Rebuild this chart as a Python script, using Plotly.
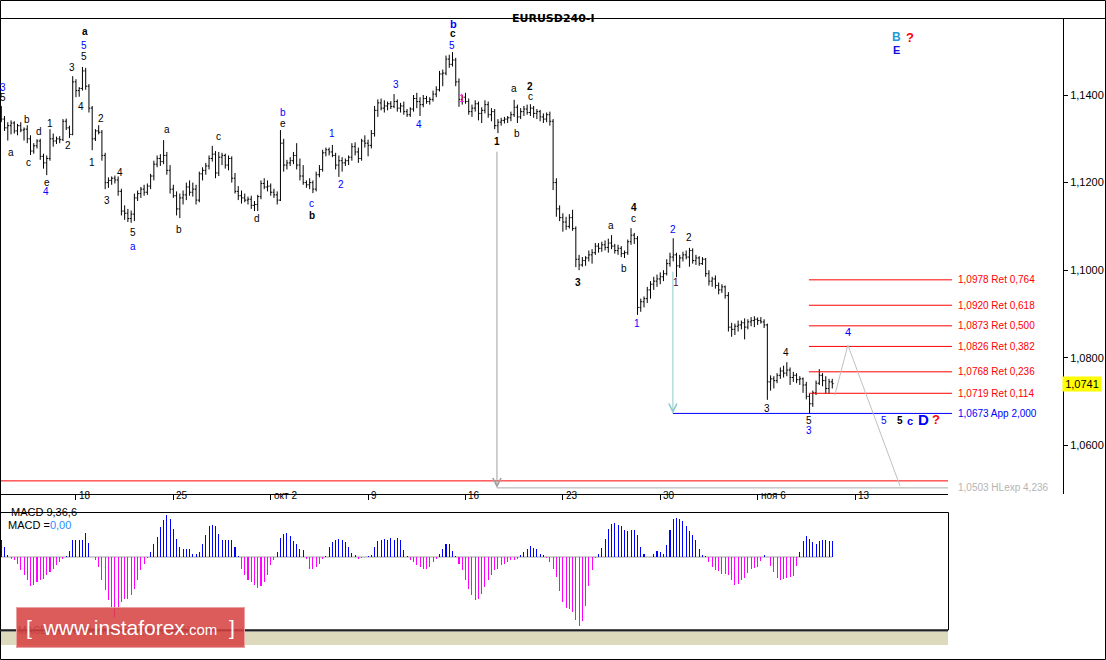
import plotly.graph_objects as go

W, H = 1106, 660

# ---------------- price data (EURUSD, H4 bars) ----------------
bar_open = [
 1.1365, 1.1345, 1.1325, 1.1330, 1.1336, 1.1318, 1.1330, 1.1320, 1.1322, 1.1300,
 1.1272, 1.1284, 1.1295, 1.1260, 1.1245, 1.1255, 1.1300, 1.1295, 1.1300, 1.1298,
 1.1340, 1.1325, 1.1310, 1.1430, 1.1410, 1.1415, 1.1455, 1.1420, 1.1370, 1.1300,
 1.1318, 1.1315, 1.1262, 1.1200, 1.1205, 1.1210, 1.1206, 1.1180, 1.1135, 1.1130,
 1.1118, 1.1128, 1.1165, 1.1175, 1.1185, 1.1178, 1.1192, 1.1215, 1.1242, 1.1255,
 1.1248, 1.1262, 1.1228, 1.1185, 1.1170, 1.1140, 1.1165, 1.1172, 1.1190, 1.1178,
 1.1185, 1.1160, 1.1220, 1.1228, 1.1238, 1.1255, 1.1265, 1.1222, 1.1258, 1.1262,
 1.1240, 1.1255, 1.1210, 1.1180, 1.1170, 1.1165, 1.1160, 1.1162, 1.1148, 1.1150,
 1.1168, 1.1198, 1.1190, 1.1192, 1.1178, 1.1172, 1.1160, 1.1290, 1.1240, 1.1245,
 1.1250, 1.1262, 1.1240, 1.1215, 1.1200, 1.1195, 1.1200, 1.1185, 1.1218, 1.1230,
 1.1268, 1.1275, 1.1270, 1.1262, 1.1240, 1.1250, 1.1245, 1.1250, 1.1258, 1.1282,
 1.1270, 1.1255, 1.1295, 1.1290, 1.1285, 1.1312, 1.1365, 1.1382, 1.1370, 1.1375,
 1.1380, 1.1374, 1.1385, 1.1370, 1.1375, 1.1362, 1.1355, 1.1368, 1.1392, 1.1385,
 1.1378, 1.1392, 1.1385, 1.1390, 1.1402, 1.1412, 1.1448, 1.1450, 1.1482, 1.1470,
 1.1480, 1.1430, 1.1390, 1.1395, 1.1385, 1.1362, 1.1370, 1.1380, 1.1358, 1.1365,
 1.1378, 1.1355, 1.1362, 1.1330, 1.1338, 1.1342, 1.1345, 1.1348, 1.1355, 1.1372,
 1.1350, 1.1362, 1.1368, 1.1360, 1.1370, 1.1358, 1.1362, 1.1350, 1.1345, 1.1355,
 1.1340, 1.1200, 1.1140, 1.1120, 1.1110, 1.1100, 1.1120, 1.1095, 1.1025, 1.1012,
 1.1022, 1.1028, 1.1035, 1.1040, 1.1055, 1.1050, 1.1058, 1.1052, 1.1062, 1.1055,
 1.1045, 1.1050, 1.1038, 1.1040, 1.1065, 1.1080, 1.1072, 1.0915, 1.0928, 1.0935,
 1.0955, 1.0968, 1.0975, 1.0980, 1.0985, 1.0992, 1.1015, 1.1030, 1.1035, 1.1010,
 1.1028, 1.1035, 1.1030, 1.1045, 1.1022, 1.1028, 1.1015, 1.1025, 1.0992, 1.0975,
 1.0980, 1.0965, 1.0955, 1.0962, 1.0942, 1.0870, 1.0865, 1.0872, 1.0875, 1.0880,
 1.0870, 1.0882, 1.0885, 1.0888, 1.0885, 1.0882, 1.0875, 1.0745, 1.0752, 1.0748,
 1.0760, 1.0770, 1.0765, 1.0772, 1.0755, 1.0760, 1.0750, 1.0752, 1.0738, 1.0712,
 1.0695, 1.0720, 1.0742, 1.0760, 1.0748, 1.0730, 1.0745,
]
bar_high = [
 1.1375, 1.1352, 1.1338, 1.1342, 1.1340, 1.1334, 1.1338, 1.1326, 1.1331, 1.1308,
 1.1290, 1.1299, 1.1300, 1.1266, 1.1262, 1.1322, 1.1312, 1.1305, 1.1306, 1.1345,
 1.1346, 1.1330, 1.1443, 1.1436, 1.1418, 1.1464, 1.1462, 1.1425, 1.1375, 1.1322,
 1.1331, 1.1320, 1.1268, 1.1212, 1.1214, 1.1216, 1.1214, 1.1186, 1.1148, 1.1140,
 1.1136, 1.1175, 1.1182, 1.1190, 1.1195, 1.1198, 1.1220, 1.1250, 1.1262, 1.1265,
 1.1297, 1.1270, 1.1240, 1.1195, 1.1180, 1.1175, 1.1182, 1.1200, 1.1205, 1.1200,
 1.1195, 1.1225, 1.1235, 1.1245, 1.1262, 1.1284, 1.1272, 1.1270, 1.1268, 1.1266,
 1.1262, 1.1260, 1.1222, 1.1192, 1.1182, 1.1175, 1.1168, 1.1170, 1.1158, 1.1172,
 1.1205, 1.1210, 1.1205, 1.1198, 1.1186, 1.1180, 1.1320, 1.1300, 1.1252, 1.1258,
 1.1270, 1.1290, 1.1255, 1.1240, 1.1205, 1.1210, 1.1205, 1.1225, 1.1240, 1.1275,
 1.1280, 1.1280, 1.1286, 1.1268, 1.1262, 1.1258, 1.1255, 1.1262, 1.1290, 1.1292,
 1.1280, 1.1300, 1.1308, 1.1298, 1.1320, 1.1375, 1.1390, 1.1392, 1.1388, 1.1385,
 1.1386, 1.1402, 1.1390, 1.1382, 1.1385, 1.1368, 1.1372, 1.1400, 1.1405, 1.1395,
 1.1400, 1.1398, 1.1395, 1.1410, 1.1420, 1.1455, 1.1458, 1.1490, 1.1492, 1.1498,
 1.1485, 1.1438, 1.1400, 1.1405, 1.1392, 1.1378, 1.1388, 1.1385, 1.1372, 1.1388,
 1.1385, 1.1370, 1.1368, 1.1345, 1.1348, 1.1350, 1.1352, 1.1362, 1.1389, 1.1378,
 1.1370, 1.1375, 1.1378, 1.1379, 1.1375, 1.1368, 1.1366, 1.1358, 1.1360, 1.1362,
 1.1345, 1.1210, 1.1148, 1.1130, 1.1122, 1.1128, 1.1138, 1.1100, 1.1035, 1.1030,
 1.1032, 1.1045, 1.1048, 1.1062, 1.1062, 1.1065, 1.1068, 1.1072, 1.1080, 1.1060,
 1.1058, 1.1055, 1.1045, 1.1070, 1.1096, 1.1085, 1.1078, 1.0935, 1.0940, 1.0962,
 1.0975, 1.0985, 1.0990, 1.0995, 1.1000, 1.1025, 1.1040, 1.1073, 1.1040, 1.1035,
 1.1042, 1.1045, 1.1051, 1.1050, 1.1035, 1.1032, 1.1030, 1.1028, 1.1000, 1.0985,
 1.0988, 1.0972, 1.0968, 1.0965, 1.0950, 1.0880, 1.0878, 1.0885, 1.0885, 1.0890,
 1.0888, 1.0893, 1.0895, 1.0892, 1.0893, 1.0888, 1.0878, 1.0760, 1.0758, 1.0765,
 1.0778, 1.0782, 1.0790, 1.0778, 1.0768, 1.0765, 1.0758, 1.0755, 1.0745, 1.0718,
 1.0725, 1.0748, 1.0774, 1.0765, 1.0758, 1.0752, 1.0752,
]
bar_low = [
 1.1338, 1.1318, 1.1296, 1.1310, 1.1312, 1.1308, 1.1315, 1.1296, 1.1290, 1.1263,
 1.1266, 1.1278, 1.1252, 1.1232, 1.1217, 1.1250, 1.1282, 1.1288, 1.1290, 1.1295,
 1.1320, 1.1302, 1.1308, 1.1395, 1.1396, 1.1410, 1.1412, 1.1360, 1.1274, 1.1295,
 1.1310, 1.1250, 1.1185, 1.1188, 1.1195, 1.1198, 1.1170, 1.1125, 1.1115, 1.1110,
 1.1108, 1.1112, 1.1158, 1.1165, 1.1170, 1.1172, 1.1185, 1.1205, 1.1235, 1.1238,
 1.1242, 1.1218, 1.1175, 1.1165, 1.1125, 1.1119, 1.1150, 1.1160, 1.1170, 1.1168,
 1.1150, 1.1155, 1.1205, 1.1218, 1.1230, 1.1248, 1.1210, 1.1215, 1.1240, 1.1232,
 1.1228, 1.1200, 1.1175, 1.1160, 1.1152, 1.1155, 1.1150, 1.1140, 1.1135, 1.1135,
 1.1162, 1.1185, 1.1180, 1.1170, 1.1165, 1.1150, 1.1158, 1.1225, 1.1230, 1.1238,
 1.1242, 1.1230, 1.1205, 1.1195, 1.1188, 1.1185, 1.1176, 1.1180, 1.1212, 1.1225,
 1.1260, 1.1262, 1.1258, 1.1230, 1.1213, 1.1225, 1.1238, 1.1240, 1.1250, 1.1262,
 1.1245, 1.1250, 1.1280, 1.1260, 1.1278, 1.1305, 1.1350, 1.1365, 1.1360, 1.1365,
 1.1368, 1.1370, 1.1362, 1.1360, 1.1355, 1.1350, 1.1350, 1.1362, 1.1370, 1.1352,
 1.1372, 1.1380, 1.1378, 1.1385, 1.1395, 1.1408, 1.1420, 1.1445, 1.1462, 1.1465,
 1.1420, 1.1373, 1.1378, 1.1380, 1.1355, 1.1350, 1.1362, 1.1342, 1.1336, 1.1358,
 1.1348, 1.1340, 1.1322, 1.1313, 1.1330, 1.1335, 1.1336, 1.1340, 1.1350, 1.1336,
 1.1345, 1.1352, 1.1355, 1.1352, 1.1348, 1.1345, 1.1340, 1.1336, 1.1338, 1.1330,
 1.1183, 1.1122, 1.1112, 1.1088, 1.1092, 1.1095, 1.1090, 1.1007, 1.1000, 1.1008,
 1.1010, 1.1020, 1.1015, 1.1035, 1.1040, 1.1042, 1.1045, 1.1040, 1.1048, 1.1038,
 1.1035, 1.1030, 1.1028, 1.1035, 1.1058, 1.1060, 1.0898, 1.0905, 1.0915, 1.0925,
 1.0935, 1.0955, 1.0962, 1.0968, 1.0975, 1.0988, 1.1008, 1.1020, 1.0984, 1.1005,
 1.1020, 1.1025, 1.1008, 1.1015, 1.1012, 1.1010, 1.1012, 1.0985, 1.0965, 1.0962,
 1.0958, 1.0945, 1.0948, 1.0935, 1.0860, 1.0848, 1.0852, 1.0860, 1.0865, 1.0842,
 1.0865, 1.0872, 1.0870, 1.0875, 1.0878, 1.0868, 1.0704, 1.0725, 1.0730, 1.0742,
 1.0752, 1.0755, 1.0758, 1.0738, 1.0745, 1.0742, 1.0738, 1.0720, 1.0705, 1.0673,
 1.0688, 1.0715, 1.0738, 1.0735, 1.0718, 1.0718, 1.0730,
]
bar_close = [
 1.1345, 1.1325, 1.1330, 1.1336, 1.1318, 1.1330, 1.1320, 1.1322, 1.1300, 1.1272,
 1.1284, 1.1295, 1.1260, 1.1245, 1.1255, 1.1300, 1.1295, 1.1300, 1.1298, 1.1340,
 1.1325, 1.1310, 1.1430, 1.1410, 1.1415, 1.1455, 1.1420, 1.1370, 1.1300, 1.1318,
 1.1315, 1.1262, 1.1200, 1.1205, 1.1210, 1.1206, 1.1180, 1.1135, 1.1130, 1.1118,
 1.1128, 1.1165, 1.1175, 1.1185, 1.1178, 1.1192, 1.1215, 1.1242, 1.1255, 1.1248,
 1.1262, 1.1228, 1.1185, 1.1170, 1.1140, 1.1165, 1.1172, 1.1190, 1.1178, 1.1185,
 1.1160, 1.1220, 1.1228, 1.1238, 1.1255, 1.1265, 1.1222, 1.1258, 1.1262, 1.1240,
 1.1255, 1.1210, 1.1180, 1.1170, 1.1165, 1.1160, 1.1162, 1.1148, 1.1150, 1.1168,
 1.1198, 1.1190, 1.1192, 1.1178, 1.1172, 1.1160, 1.1290, 1.1240, 1.1245, 1.1250,
 1.1262, 1.1240, 1.1215, 1.1200, 1.1195, 1.1200, 1.1185, 1.1218, 1.1230, 1.1268,
 1.1275, 1.1270, 1.1262, 1.1240, 1.1250, 1.1245, 1.1250, 1.1258, 1.1282, 1.1270,
 1.1255, 1.1295, 1.1290, 1.1285, 1.1312, 1.1365, 1.1382, 1.1370, 1.1375, 1.1380,
 1.1374, 1.1385, 1.1370, 1.1375, 1.1362, 1.1355, 1.1368, 1.1392, 1.1385, 1.1378,
 1.1392, 1.1385, 1.1390, 1.1402, 1.1412, 1.1448, 1.1450, 1.1482, 1.1470, 1.1480,
 1.1430, 1.1390, 1.1395, 1.1385, 1.1362, 1.1370, 1.1380, 1.1358, 1.1365, 1.1378,
 1.1355, 1.1362, 1.1330, 1.1338, 1.1342, 1.1345, 1.1348, 1.1355, 1.1372, 1.1350,
 1.1362, 1.1368, 1.1360, 1.1370, 1.1358, 1.1362, 1.1350, 1.1345, 1.1355, 1.1340,
 1.1200, 1.1140, 1.1120, 1.1110, 1.1100, 1.1120, 1.1095, 1.1025, 1.1012, 1.1022,
 1.1028, 1.1035, 1.1040, 1.1055, 1.1050, 1.1058, 1.1052, 1.1062, 1.1055, 1.1045,
 1.1050, 1.1038, 1.1040, 1.1065, 1.1080, 1.1072, 1.0915, 1.0928, 1.0935, 1.0955,
 1.0968, 1.0975, 1.0980, 1.0985, 1.0992, 1.1015, 1.1030, 1.1035, 1.1010, 1.1028,
 1.1035, 1.1030, 1.1045, 1.1022, 1.1028, 1.1015, 1.1025, 1.0992, 1.0975, 1.0980,
 1.0965, 1.0955, 1.0962, 1.0942, 1.0870, 1.0865, 1.0872, 1.0875, 1.0880, 1.0870,
 1.0882, 1.0885, 1.0888, 1.0885, 1.0882, 1.0875, 1.0745, 1.0752, 1.0748, 1.0760,
 1.0770, 1.0765, 1.0772, 1.0755, 1.0760, 1.0750, 1.0752, 1.0738, 1.0712, 1.0695,
 1.0720, 1.0742, 1.0760, 1.0748, 1.0730, 1.0745, 1.0741,
]
bar_index = list(range(len(bar_close)))

# MACD(9,36,6) histogram, in units of 1e-4
macd_hist = [
  17,  10,   2,  -2,  -3,  -7, -13, -18, -23, -29,
 -28, -25, -23, -22, -18, -15, -12,  -8,  -5,  -2,
   1,   6,  17,  17,  17,  17,  24,  14,   0,  -3,
 -10, -23, -33, -43, -50, -60, -52, -45, -42, -42,
 -38, -32, -23, -13,  -7,  -1,   5,  13,  20,  30,
  37,  42,  38,  28,  18,  10,   8,   8,   8,   3,
   3,   5,  13,  22,  31,  32,  31,  23,  17,  17,
  17,  17,  10,   1, -12, -18, -23, -25, -28, -31,
 -29, -25, -18,  -8,  -3,   5,  19,  23,  24,  21,
  16,  13,   8,   7,  -2, -12, -12, -10,  -7,  -2,
   1,  10,  15,  17,  18,  17,  15,  10,   4,   2,
  -2,  -1,   0,   1,   2,  10,  16,  17,  18,  17,
  19,  17,  19,  17,   7,   1,  -3,  -5,  -8, -10,
 -12, -12, -10,  -5,  -2,   3,   8,  13,  13,   6,
   1,  -7, -13, -23, -32, -38, -43, -42, -37, -30,
 -23, -18, -13, -12,  -8,  -7,  -5,  -3,  -3,  -2,
   2,   5,   8,  11,   9,   8,   3,   2,  -1,  -5,
 -12, -20, -34, -45, -51, -52, -55, -63, -69, -64,
 -49, -29, -13,  -1,   3,   9,  18,  28,  33,  34,
  32,  31,  27,  26,  27,  27,  22,  10,   3,   0,
   0,   3,   6,   5,   3,  12,  27,  38,  39,  38,
  36,  31,  26,  22,  17,   8,   2,   1,  -5, -10,
 -13, -14, -17, -17, -18, -23, -28, -27, -23, -21,
 -16, -12, -11, -10,  -4,   2,   0,  -9, -15, -21,
 -23, -22, -21, -20, -19,  -9,   5,  16,  21,  18,
  15,  13,  16,  17,  17,  16,  16,
]

# date axis
date_tick_bar = [23, 53, 83, 113, 143, 173, 203, 233, 263]
date_tick_text = ["18", "25", "окт 2", "9", "16", "23", "30", "ноя 6", "13"]

price_ticks = [1.06, 1.08, 1.10, 1.12, 1.14]
price_tick_text = ["1,0600", "1,0800", "1,1000", "1,1200", "1,1400"]
last_price = 1.0741

# Fibonacci tool levels
fib_levels = [1.0978, 1.0920, 1.0873, 1.0826, 1.0768, 1.0719]
fib_ratios = ["0,764", "0,618", "0,500", "0,382", "0,236", "0,114"]
fib_start_bar, fib_end_bar = 248.8, 292.9
app_level, app_ratio, app_start_bar = 1.0673, "2,000", 206.9
hlexp_level, hlexp_ratio, hlexp_start_bar, hlexp_end_bar = 1.0503, "4,236", 152.7, 291.65
base_red_level = 1.0519

# measurement arrows (bar, from price, to price)
arrow1 = (152.7, 1.1274, 1.0503)
arrow2 = (206.9, 1.1000, 1.0673)

# projected path
proj_bar = [256.8, 260.8, 276.9]
proj_price = [1.0715, 1.0829, 1.0507]

# wave labels
wave_text = ["3", "5", "a", "b", "c", "d", "e", "4", "1", "2",
             "3", "4", "5", "5", "a", "1", "2", "3", "4", "5",
             "a", "a", "b", "c", "d", "b", "e", "c", "b", "1",
             "2", "3", "4", "5", "c", "b", "1", "1", "a", "b",
             "2", "c", "3", "a", "b", "4", "c", "1", "2", "1",
             "2", "3", "4", "5", "3", "4", "5", "5", "c", "D",
             "?", "B", "?", "E"]
wave_bar = [0.5, 0.5, 3.0, 7.9, 8.5, 11.6, 14.1, 13.8, 15.0, 20.6,
            21.8, 24.6, 25.5, 25.5, 25.8, 27.9, 30.7, 32.6, 36.6, 40.6,
            40.6, 51.0, 54.7, 66.8, 78.8, 86.8, 86.8, 95.7, 95.7, 101.9,
            104.7, 121.6, 128.7, 138.9, 139.2, 139.2, 141.9, 152.7, 158.0, 158.9,
            162.9, 162.9, 177.7, 187.8, 191.8, 194.9, 194.9, 195.8, 206.9, 207.9,
            211.9, 235.9, 241.7, 248.8, 248.8, 260.8, 271.9, 276.9, 280.0, 284.0,
            288.0, 275.9, 279.9, 275.9]
wave_price = [1.1418, 1.1395, 1.1268, 1.1345, 1.1245, 1.1316, 1.1201, 1.1179, 1.1336, 1.1284,
              1.1462, 1.1373, 1.1487, 1.1514, 1.1544, 1.1247, 1.1347, 1.1160, 1.1224, 1.1085,
              1.1055, 1.1322, 1.1092, 1.1306, 1.1119, 1.1359, 1.1334, 1.1153, 1.1124, 1.1311,
              1.1195, 1.1423, 1.1332, 1.1512, 1.1540, 1.1562, 1.1393, 1.1293, 1.1414, 1.1311,
              1.1420, 1.1396, 1.0971, 1.1101, 1.1003, 1.1142, 1.1117, 1.0879, 1.1094, 1.0971,
              1.1074, 1.0685, 1.0811, 1.0656, 1.0635, 1.0859, 1.0656, 1.0656, 1.0656, 1.0658,
              1.0658, 1.1532, 1.1532, 1.1503]
wave_style = ["u", "k", "k", "k", "k", "k", "k", "u", "k", "k",
              "k", "k", "k", "u", "kb", "k", "k", "k", "k", "k",
              "u", "k", "k", "k", "k", "u", "k", "u", "kb", "u",
              "u", "u", "u", "u", "kb", "ub", "m", "kb", "k", "k",
              "kb", "k", "kb", "k", "k", "kb", "k", "u", "u", "r",
              "k", "k", "k", "k", "u", "u4", "u", "kb", "ub", "D",
              "q", "B", "q", "E"]

STYLES = {
    "k": ("#000000", False, 10),
    "kb": ("#000000", True, 10),
    "u": ("#0000ff", False, 10),
    "u4": ("#0000ff", False, 11),
    "ub": ("#0000ff", True, 11),
    "m": ("#ff00ff", False, 10),
    "r": ("#6a0000", False, 10),
    "D": ("#0000ff", True, 15),
    "q": ("#ff0000", True, 13),
    "B": ("#1e9bd7", True, 12),
    "E": ("#1010e0", True, 11),
}

FONT = "Liberation Sans, Arial, sans-serif"


def px(x):
    return x / W


def py(y):
    return 1 - y / H


fig = go.Figure()

# OHLC bars
fig.add_trace(go.Ohlc(
    x=bar_index, open=bar_open, high=bar_high, low=bar_low, close=bar_close,
    increasing=dict(line=dict(color="#000000", width=1)),
    decreasing=dict(line=dict(color="#000000", width=1)),
    tickwidth=0.4, hoverinfo="skip", showlegend=False,
    xaxis="x", yaxis="y",
))

# Base red line and HLexp line
fig.add_trace(go.Scatter(x=[-0.4, hlexp_end_bar], y=[base_red_level, base_red_level],
                         mode="lines", line=dict(color="#ff0000", width=1),
                         hoverinfo="skip", showlegend=False))
fig.add_trace(go.Scatter(x=[hlexp_start_bar, hlexp_end_bar], y=[hlexp_level, hlexp_level],
                         mode="lines", line=dict(color="#a8a8a8", width=1),
                         hoverinfo="skip", showlegend=False))

# Fibonacci retracement lines
fx, fy = [], []
for lv in fib_levels:
    fx += [fib_start_bar, fib_end_bar, None]
    fy += [lv, lv, None]
fig.add_trace(go.Scatter(x=fx, y=fy, mode="lines", line=dict(color="#ff0000", width=1),
                         hoverinfo="skip", showlegend=False))
fig.add_trace(go.Scatter(x=[app_start_bar, fib_end_bar], y=[app_level, app_level],
                         mode="lines", line=dict(color="#0000ff", width=1),
                         hoverinfo="skip", showlegend=False))

# projection path
fig.add_trace(go.Scatter(x=proj_bar, y=proj_price, mode="lines",
                         line=dict(color="#c0c0c0", width=1),
                         hoverinfo="skip", showlegend=False))

# MACD histogram
fig.add_trace(go.Bar(
    x=bar_index, y=macd_hist, width=0.32,
    marker=dict(color=["#0000ff" if v >= 0 else "#ff00ff" for v in macd_hist], line=dict(width=0)),
    hoverinfo="skip", showlegend=False, xaxis="x2", yaxis="y2",
))

annotations = []

# title
annotations.append(dict(xref="paper", yref="paper", x=px(553), y=py(9.5), xanchor="center",
                        text="<b>EURUSD240-I</b>", showarrow=False,
                        font=dict(family="DejaVu Sans", size=11, color="#000000")))

# date labels
for b, t in zip(date_tick_bar, date_tick_text):
    annotations.append(dict(xref="x", yref="paper", x=b, y=py(503), text=t,
                            showarrow=False, xanchor="left", xshift=1,
                            font=dict(family=FONT, size=10, color="#000000")))

# fib labels
for lv, r in zip(fib_levels, fib_ratios):
    annotations.append(dict(xref="x", yref="y", x=fib_end_bar, y=lv,
                            text=f"{lv:.4f}".replace(".", ",") + " Ret " + r,
                            showarrow=False, xanchor="left", xshift=4,
                            font=dict(family=FONT, size=10, color="#ff0000")))
annotations.append(dict(xref="x", yref="y", x=fib_end_bar, y=app_level,
                        text=f"{app_level:.4f}".replace(".", ",") + " App " + app_ratio,
                        showarrow=False, xanchor="left", xshift=4,
                        font=dict(family=FONT, size=10, color="#0000ff")))
annotations.append(dict(xref="x", yref="y", x=hlexp_end_bar, y=hlexp_level,
                        text=f"{hlexp_level:.4f}".replace(".", ",") + " HLexp " + hlexp_ratio,
                        showarrow=False, xanchor="left", xshift=8,
                        font=dict(family=FONT, size=10, color="#b4b4b4")))

# arrows
for (b, p0, p1), col in ((arrow1, "#a0a0a0"), (arrow2, "#8ccaca")):
    annotations.append(dict(xref="x", yref="y", axref="x", ayref="y",
                            x=b, y=p1, ax=b, ay=p0, text="", showarrow=True,
                            arrowhead=5, arrowsize=1.6, arrowwidth=1, arrowcolor=col))

# wave labels
for t, b, p, s in zip(wave_text, wave_bar, wave_price, wave_style):
    col, bold, size = STYLES[s]
    annotations.append(dict(xref="x", yref="y", x=b, y=p, xanchor="center", yanchor="middle",
                            text=f"<b>{t}</b>" if bold else t, showarrow=False,
                            font=dict(family=FONT, size=size, color=col)))

# current price label
annotations.append(dict(xref="paper", yref="y", x=px(1062), y=last_price,
                        text=f"{last_price:.4f}".replace(".", ","), showarrow=False,
                        xanchor="left", bgcolor="#ffff00", borderpad=1, width=36,
                        font=dict(family=FONT, size=11, color="#000000")))

# MACD texts
annotations.append(dict(xref="paper", yref="paper", x=px(9), y=py(520),
                        text="MACD 9,36,6", showarrow=False, xanchor="left",
                        font=dict(family=FONT, size=11, color="#000000")))
annotations.append(dict(xref="paper", yref="paper", x=px(6), y=py(533),
                        text="MACD =<span style='color:#2a8cff'>0,00</span>",
                        showarrow=False, xanchor="left",
                        font=dict(family=FONT, size=11, color="#000000")))

# bottom tabs
annotations.append(dict(xref="paper", yref="paper", x=px(16), y=py(638),
                        text="MACD 9,36,6", showarrow=False, xanchor="left",
                        font=dict(family=FONT, size=10, color="#404040")))
annotations.append(dict(xref="paper", yref="paper", x=px(80), y=py(638),
                        text="Stoch 13,3,3 (80%-20%)", showarrow=False, xanchor="left",
                        font=dict(family=FONT, size=10, color="#404040")))

# banner
annotations.append(dict(xref="paper", yref="paper", x=px(130.5), y=py(627.5),
                        xanchor="center", yanchor="middle",
                        text="[&nbsp; www.instaforex<span style='font-size:15px'>.com</span> &nbsp;]",
                        showarrow=False, width=225, height=37,
                        bgcolor="rgba(214,64,64,0.86)", bordercolor="#eaa0a0", borderwidth=1,
                        font=dict(family=FONT, size=21, color="#ffffff")))

shapes = [
    # outer frame
    dict(type="rect", xref="paper", yref="paper", x0=px(0.5), x1=px(1105.5), y0=py(659.5), y1=py(0.5),
         line=dict(color="#000000", width=1), layer="above"),
    # title separator
    dict(type="line", xref="paper", yref="paper", x0=0, x1=1, y0=py(18.5), y1=py(18.5),
         line=dict(color="#000000", width=1)),
    # bottom line of price chart
    dict(type="line", xref="paper", yref="paper", x0=0, x1=px(948), y0=py(494.5), y1=py(494.5),
         line=dict(color="#000000", width=1)),
    # MACD panel frame
    dict(type="rect", xref="paper", yref="paper", x0=px(0.5), x1=px(948.5), y0=py(630), y1=py(512.5),
         line=dict(color="#000000", width=1), layer="below"),
    dict(type="line", xref="paper", yref="paper", x0=0, x1=px(948), y0=py(630.5), y1=py(630.5),
         line=dict(color="#222222", width=2)),
    # hatch band
    dict(type="rect", xref="paper", yref="paper", x0=px(0.5), x1=px(948), y0=py(645), y1=py(632),
         fillcolor="#dcd9bd", line=dict(width=0), layer="below"),
    # MACD zero line
    dict(type="line", xref="x2", yref="y2", x0=-0.4, x1=bar_index[-1], y0=0, y1=0,
         line=dict(color="#a0a0a0", width=1), layer="below"),
]

fig.update_layout(
    width=W, height=H, margin=dict(l=0, r=0, t=0, b=0),
    paper_bgcolor="#ffffff", plot_bgcolor="rgba(0,0,0,0)",
    showlegend=False, bargap=0,
    xaxis=dict(domain=[0, px(1063)], range=[-0.4, 327.08], showgrid=False, zeroline=False,
               showticklabels=False, ticks="outside", ticklen=5, tickcolor="#000000",
               tickvals=date_tick_bar, showline=False, rangeslider=dict(visible=False),
               fixedrange=True, anchor="y"),
    yaxis=dict(domain=[py(494), py(18)], range=[1.048904, 1.157580], side="right",
               showgrid=False, zeroline=False, showline=True, linecolor="#000000", linewidth=1,
               ticks="outside", ticklen=4, tickcolor="#000000", tickvals=price_ticks,
               ticktext=price_tick_text, automargin=False, anchor="x",
               tickfont=dict(family=FONT, size=11, color="#000000")),
    xaxis2=dict(domain=[0, px(948)], range=[-0.4, 291.65], showgrid=False, zeroline=False,
                showticklabels=False, showline=False, anchor="y2"),
    yaxis2=dict(domain=[py(630), py(512)], range=[-73, 45], showgrid=False, zeroline=False,
                showticklabels=False, showline=False, anchor="x2"),
    annotations=annotations,
    shapes=shapes,
)

fig.write_html(
    "out.html",
    config={"displayModeBar": False, "staticPlot": True},
    post_script="document.body.style.margin='0';document.body.style.overflow='hidden';",
)
